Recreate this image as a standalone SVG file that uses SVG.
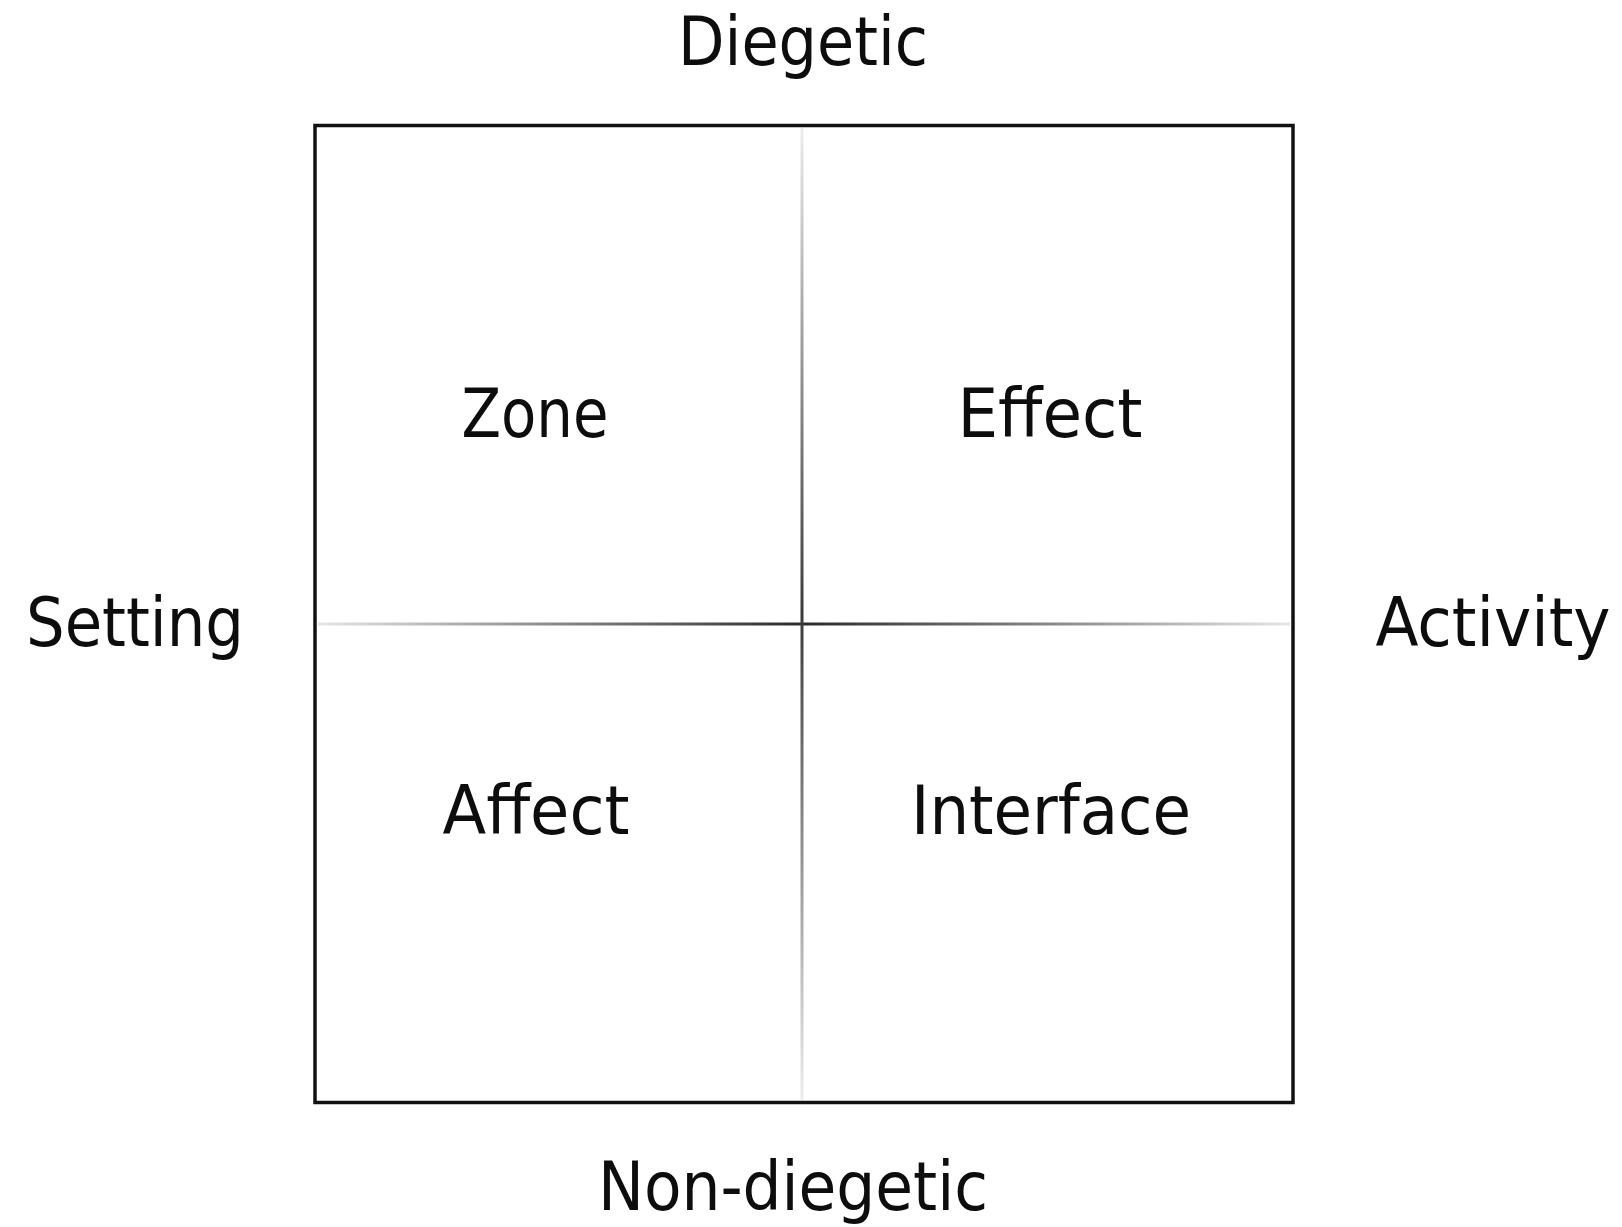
<svg xmlns="http://www.w3.org/2000/svg" width="1622" height="1227" viewBox="0 0 1622 1227">
<style>
text{font-family:"DejaVu Sans","Open Sans",sans-serif;font-stretch:condensed;font-size:68px;fill:#0d0d0d;text-anchor:middle}
</style>
<defs>
<linearGradient id="gh" x1="315" y1="0" x2="1293" y2="0" gradientUnits="userSpaceOnUse">
<stop offset="0" stop-color="#e6e6e6"/>
<stop offset="0.5" stop-color="#2a2a2a"/>
<stop offset="1" stop-color="#e6e6e6"/>
</linearGradient>
<linearGradient id="gv" x1="0" y1="125" x2="0" y2="1103" gradientUnits="userSpaceOnUse">
<stop offset="0" stop-color="#eeeeee"/>
<stop offset="0.5" stop-color="#3a3a3a"/>
<stop offset="1" stop-color="#eeeeee"/>
</linearGradient>
</defs>
<rect width="1622" height="1227" fill="#fff"/>
<g id="frame">
<rect x="315" y="125.5" width="978" height="977" fill="none" stroke="#111" stroke-width="3.5"/>
</g>
<g id="connectors">
<rect x="318" y="622.5" width="972" height="3" fill="url(#gh)"/>
<rect x="800.5" y="128" width="3" height="972" fill="url(#gv)"/>
</g>
<g id="axis-top"><text x="803" y="65" textLength="250" lengthAdjust="spacingAndGlyphs">Diegetic</text></g>
<g id="axis-bottom"><text x="793" y="1210" textLength="390" lengthAdjust="spacingAndGlyphs">Non-diegetic</text></g>
<g id="axis-left"><text x="135" y="646" textLength="218" lengthAdjust="spacingAndGlyphs">Setting</text></g>
<g id="axis-right"><text x="1493" y="646" textLength="235" lengthAdjust="spacingAndGlyphs">Activity</text></g>
<g id="zone"><text x="535" y="437" textLength="147" lengthAdjust="spacingAndGlyphs">Zone</text></g>
<g id="effect"><text x="1050" y="437" textLength="185" lengthAdjust="spacingAndGlyphs">Effect</text></g>
<g id="affect"><text x="536" y="834" textLength="187" lengthAdjust="spacingAndGlyphs">Affect</text></g>
<g id="interface"><text x="1051" y="834" textLength="280" lengthAdjust="spacingAndGlyphs">Interface</text></g>
</svg>
